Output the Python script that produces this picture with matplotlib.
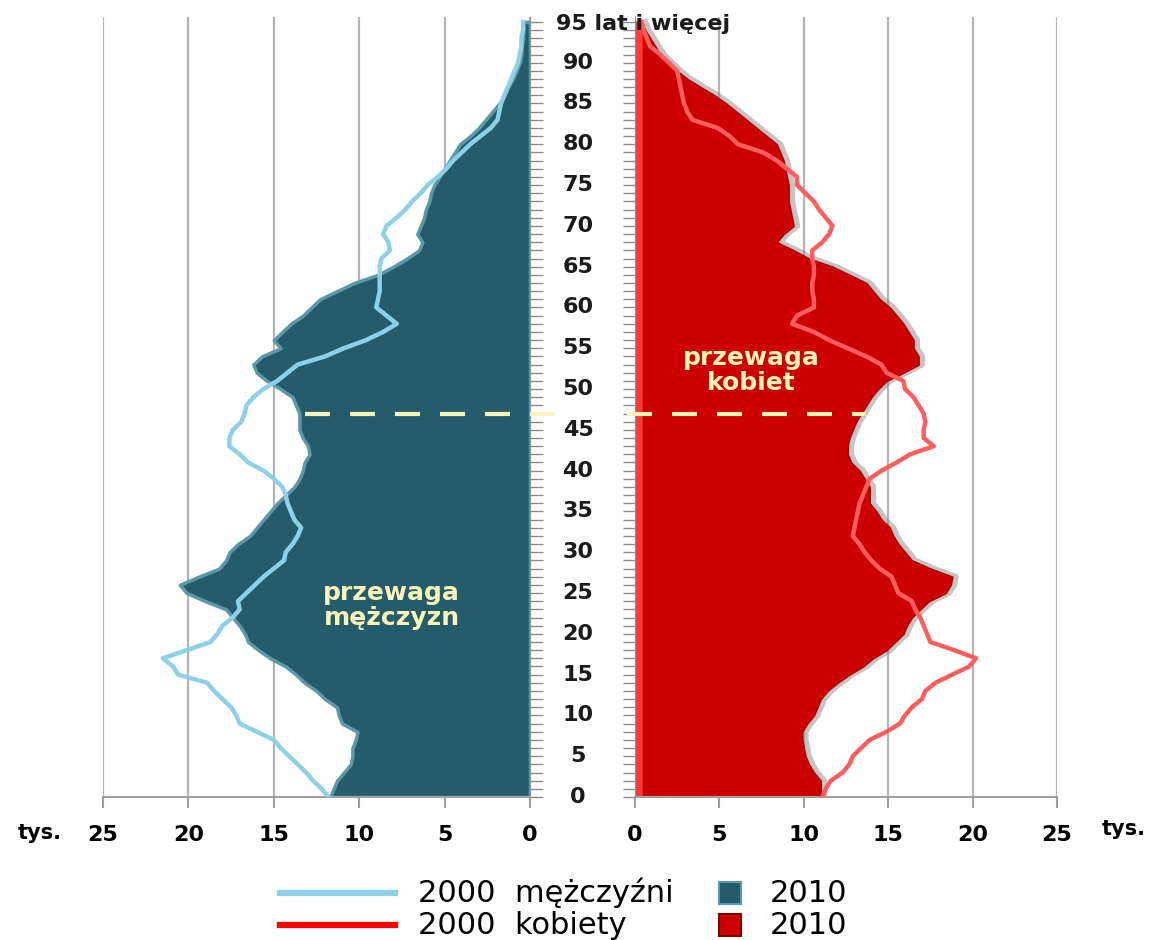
import numpy as np
import matplotlib
matplotlib.use("Agg")
import matplotlib.pyplot as plt
from matplotlib.lines import Line2D
from matplotlib.transforms import blended_transform_factory

# wiek 0..95 (95 = 95 lat i więcej), wartości w tys.
ages = np.arange(0, 96)

men_2010 = [11.7, 11.5, 11.3, 10.9, 10.5, 10.4, 10.4, 10.2, 10.1, 11.0,
            11.2, 11.3, 12.0, 12.5, 13.2, 13.7, 14.3, 15.2, 15.9, 16.5,
            16.7, 17.0, 17.4, 17.8, 19.0, 20.1, 20.5, 19.4, 18.2, 17.8,
            17.6, 17.1, 16.4, 16.0, 15.6, 15.2, 14.8, 14.3, 13.8, 13.5,
            13.3, 13.2, 12.9, 13.0, 13.3, 13.5, 13.5, 13.5, 13.7, 13.9,
            14.6, 15.4, 16.0, 16.2, 15.7, 14.6, 15.0, 14.5, 14.0, 13.3,
            12.8, 12.3, 11.3, 10.3, 8.9, 8.0, 7.2, 6.5, 6.3, 6.6,
            6.4, 6.2, 6.1, 5.9, 5.8, 5.6, 5.3, 5.0, 4.7, 4.4,
            4.1, 3.5, 3.0, 2.6, 2.2, 1.8, 1.5, 1.3, 1.0, 0.8,
            0.6, 0.5, 0.5, 0.4, 0.4, 0.4]

men_2000 = [11.8, 12.2, 12.7, 13.1, 13.6, 14.1, 14.6, 15.0, 16.0, 17.0,
            17.2, 17.5, 18.0, 18.5, 18.9, 20.6, 20.9, 21.5, 20.1, 18.7,
            18.3, 18.0, 17.4, 17.0, 17.1, 16.6, 16.1, 15.6, 15.0, 14.4,
            14.3, 13.9, 13.6, 13.4, 13.8, 14.0, 14.2, 14.3, 14.5, 15.0,
            15.6, 16.5, 17.0, 17.6, 17.6, 17.4, 16.9, 16.7, 16.6, 16.2,
            15.6, 14.8, 14.2, 13.6, 12.0, 10.9, 9.6, 8.6, 7.8, 8.4,
            9.0, 8.9, 8.8, 8.8, 8.8, 8.8, 8.7, 8.2, 8.3, 8.6,
            8.4, 7.8, 7.3, 6.9, 6.4, 6.0, 5.4, 4.9, 4.5, 4.0,
            3.5, 2.9, 2.3, 1.9, 1.8, 1.7, 1.5, 1.3, 1.1, 0.9,
            0.7, 0.6, 0.5, 0.5, 0.4, 0.4]

women_2010 = [11.0, 11.0, 11.0, 10.6, 10.3, 10.1, 10.0, 9.9, 9.9, 10.2,
              10.6, 10.8, 11.0, 11.4, 12.0, 12.7, 13.5, 14.1, 14.9, 15.4,
              15.9, 16.1, 16.4, 16.9, 17.4, 18.4, 18.7, 18.8, 17.5, 16.4,
              16.0, 15.6, 15.3, 15.1, 14.6, 14.3, 13.9, 13.9, 13.9, 13.6,
              13.3, 12.8, 12.6, 12.6, 12.7, 12.9, 13.1, 13.4, 13.7, 14.0,
              14.4, 14.9, 15.9, 16.8, 16.8, 16.5, 16.5, 16.2, 15.9, 15.5,
              15.1, 14.5, 14.1, 13.7, 12.7, 11.7, 10.3, 9.4, 8.4, 8.8,
              9.4, 9.3, 9.2, 9.1, 9.1, 9.1, 9.0, 8.9, 8.8, 8.6,
              8.4, 7.8, 7.2, 6.6, 6.0, 5.4, 4.7, 3.9, 3.1, 2.5,
              2.0, 1.5, 1.2, 0.9, 0.6, 0.4]

women_2000 = [11.1, 11.3, 11.6, 12.3, 12.7, 12.9, 13.4, 13.9, 14.9, 15.7,
              16.0, 16.4, 17.0, 17.2, 17.8, 18.8, 19.8, 20.2, 18.9, 17.5,
              17.3, 17.1, 16.9, 16.6, 16.4, 15.6, 15.4, 15.2, 14.5, 14.0,
              13.6, 13.3, 12.9, 13.0, 13.1, 13.2, 13.3, 13.5, 13.7, 13.9,
              14.6, 15.5, 16.3, 17.7, 17.1, 17.1, 17.2, 17.1, 16.8, 16.5,
              16.0, 15.9, 14.9, 14.6, 13.7, 12.6, 11.5, 10.6, 9.3, 9.6,
              10.6, 10.6, 10.5, 10.5, 10.6, 10.6, 10.5, 10.5, 11.1, 11.5,
              11.7, 11.3, 10.9, 10.6, 10.1, 9.6, 9.6, 9.0, 8.4, 7.6,
              6.1, 5.6, 4.9, 3.4, 3.1, 2.9, 2.8, 2.7, 2.6, 2.5,
              2.0, 1.5, 0.9, 0.7, 0.5, 0.4]

age_labels = [str(a) for a in range(0, 95, 5)]
x_ticks = [0, 5, 10, 15, 20, 25]
split_age = 47  # linia przerywana
men_note_pos = (8.1, 23.5)
women_note_pos = (6.9, 52.3)

teal = "#245c6c"
teal_edge = "#5b98a8"
light_blue = "#8ed1e6"
red = "#cc0000"
pink_red = "#ff5e5e"
cream = "#fbf6b8"
grid_col = "#b4b4b4"

W, H = 1152, 940
fig = plt.figure(figsize=(W / 100, H / 100), dpi=100)
fig.patch.set_facecolor("white")

ax_l = fig.add_axes([103 / W, 143 / H, 427 / W, 780 / H])
ax_r = fig.add_axes([635 / W, 143 / H, 422 / W, 780 / H])

for ax in (ax_l, ax_r):
    ax.set_ylim(0, 95.6)
    ax.set_xlim(0, 25)
    ax.set_axisbelow(True)
    ax.grid(axis="x", color=grid_col, linewidth=1.6)
    ax.grid(axis="y", visible=False)
    ax.set_xticks(x_ticks)
    ax.set_xticklabels([str(t) for t in x_ticks])
    ax.set_yticks(ages)
    ax.set_yticklabels([])
    ax.tick_params(axis="x", direction="out", length=8, width=1.5, color="#a0a0a0",
                   labelsize=16, pad=12)
    ax.tick_params(axis="y", direction="out", length=9, width=1.0, color="#8c8c8c")
    for lab in ax.get_xticklabels():
        lab.set_fontweight("bold")
    ax.spines["top"].set_visible(False)
    ax.spines["bottom"].set_color("#a0a0a0")
    ax.spines["bottom"].set_linewidth(1.5)

ax_l.invert_xaxis()
ax_l.spines["left"].set_visible(False)
ax_l.spines["right"].set_color("#8c8c8c")
ax_l.yaxis.tick_right()
ax_r.spines["right"].set_visible(False)
ax_r.spines["left"].set_color("#8c8c8c")
ax_r.yaxis.tick_left()

# mężczyźni
ax_l.fill_betweenx(ages, 0, men_2010, facecolor=teal, edgecolor=teal_edge,
                   linewidth=2.5, zorder=2)
ax_l.plot(men_2000, ages, color=light_blue, linewidth=3.2, zorder=3,
          solid_joinstyle="round")

# kobiety
ax_r.plot(np.array(women_2010) + 0.22, ages, color="#8a8a8a", alpha=0.5,
          linewidth=4, zorder=1.5)
ax_r.fill_betweenx(ages, 0, women_2010, facecolor=red, edgecolor="#b00000",
                   linewidth=1.2, zorder=2)
ax_r.fill_betweenx(ages, 0, np.minimum(women_2010, 0.45), facecolor="#ff3b3b",
                   edgecolor="none", zorder=2.1)
ax_r.plot(women_2000, ages, color=pink_red, linewidth=3.2, zorder=3,
          solid_joinstyle="round")

# linia przerywana
ax_l.plot([13.2, -1.6], [split_age, split_age], color=cream, linewidth=3,
          dashes=(6, 4.8), clip_on=False, zorder=4)
ax_r.plot([-0.5, 13.7], [split_age, split_age], color=cream, linewidth=3,
          dashes=(6, 4.8), clip_on=False, zorder=4)

ax_l.text(men_note_pos[0], men_note_pos[1], "przewaga\nmężczyzn", color=cream,
          fontsize=18, fontweight="bold", ha="center", va="center",
          linespacing=1.05, zorder=5)
ax_r.text(women_note_pos[0], women_note_pos[1], "przewaga\nkobiet", color=cream,
          fontsize=18, fontweight="bold", ha="center", va="center",
          linespacing=1.05, zorder=5)

# etykiety wieku pośrodku
tr = blended_transform_factory(fig.transFigure, ax_l.transData)
for lab in age_labels:
    fig.text(578 / W, int(lab), lab, transform=tr, ha="center", va="center",
             fontsize=16, fontweight="bold", color="#1a1a1a")
fig.text(556 / W, 94.8, "95 lat i więcej", transform=tr, ha="left", va="center",
         fontsize=16, fontweight="bold", color="#1a1a1a", zorder=10)

fig.text(40 / W, 1 - 833 / H, "tys.", ha="center", va="center", fontsize=15,
         fontweight="bold")
fig.text(1124 / W, 1 - 829 / H, "tys.", ha="center", va="center", fontsize=15,
         fontweight="bold")

# legenda
y1 = 1 - 893 / H
y2 = 1 - 925 / H
fig.add_artist(Line2D([280 / W, 395 / W], [y1, y1], color=light_blue, linewidth=4.5,
                      transform=fig.transFigure))
fig.add_artist(Line2D([280 / W, 395 / W], [y2, y2], color="#ff0000", linewidth=4.5,
                      transform=fig.transFigure))
fig.add_artist(Line2D([730 / W], [y1], marker="s", markersize=16, color=teal,
                      markeredgecolor=teal_edge, markeredgewidth=1.5,
                      transform=fig.transFigure))
fig.add_artist(Line2D([730 / W], [y2], marker="s", markersize=16, color=red,
                      markeredgecolor="#7a0000", markeredgewidth=1.5,
                      transform=fig.transFigure))
fig.text(418 / W, y1, "2000  mężczyźni", va="center", ha="left", fontsize=22)
fig.text(418 / W, y2, "2000  kobiety", va="center", ha="left", fontsize=22)
fig.text(770 / W, y1, "2010", va="center", ha="left", fontsize=22)
fig.text(770 / W, y2, "2010", va="center", ha="left", fontsize=22)

fig.savefig("out.png", dpi=100)
